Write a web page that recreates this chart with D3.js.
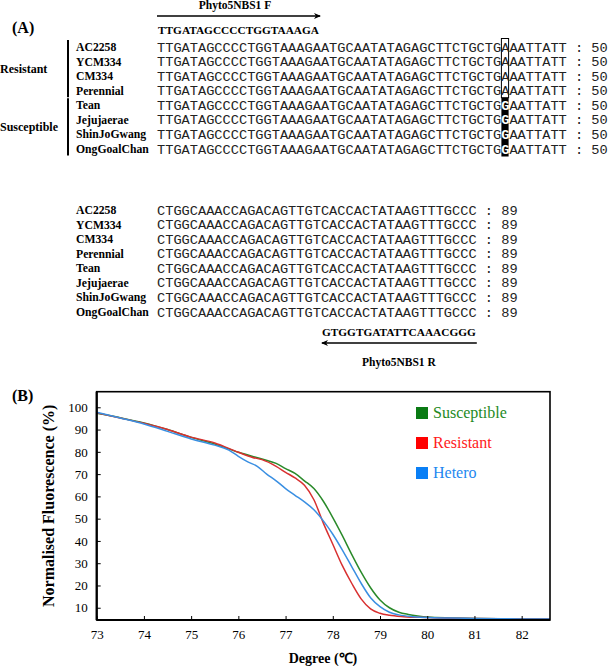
<!DOCTYPE html>
<html><head><meta charset="utf-8">
<script src="https://cdn.jsdelivr.net/npm/d3@7"></script>
<style>body{margin:0;background:#fff}svg{display:block}</style>
</head><body>
<svg id="c" width="609" height="666"></svg>
<script>
// ---------- Data: (A) alignment ----------
const accessions = ["AC2258","YCM334","CM334","Perennial","Tean","Jejujaerae","ShinJoGwang","OngGoalChan"];
const groupNames = ["Resistant","Susceptible"];
const groupMembers = [["AC2258","YCM334","CM334","Perennial"],["Tean","Jejujaerae","ShinJoGwang","OngGoalChan"]];
const seqBlock1Resistant = "TTGATAGCCCCTGGTAAAGAATGCAATATAGAGCTTCTGCTGAAATTATT";
const seqBlock1Susceptible = "TTGATAGCCCCTGGTAAAGAATGCAATATAGAGCTTCTGCTGGAATTATT";
const seqBlock2 = "CTGGCAAACCAGACAGTTGTCACCACTATAAGTTTGCCC";
const blockEnds = [50, 89];
const snpPos = 43; // 1-based position in block 1
const primerF = {name:"Phyto5NBS1 F", seq:"TTGATAGCCCCTGGTAAAGA", start:1};
const primerR = {name:"Phyto5NBS1 R", seq:"GTGGTGATATTCAAACGGG", start:21}; // within block 2

// ---------- Data: (B) melting curves ----------
const seriesNames = ["Susceptible","Resistant","Hetero"];
const susceptible = [[73.0,97.3],[73.5,95.3],[74.0,93.0],[74.5,90.0],[75.0,86.5],[75.5,83.5],[76.0,79.8],[76.5,76.8],[76.8,74.8],[77.0,72.5],[77.2,70.3],[77.4,67.0],[77.6,63.5],[77.8,57.8],[78.0,50.5],[78.2,42.5],[78.4,34.0],[78.6,26.0],[78.8,19.0],[79.0,13.5],[79.2,10.0],[79.4,8.0],[79.6,7.0],[79.8,6.3],[80.0,5.8],[80.5,5.4],[81.0,5.2],[81.5,5.1],[82.0,5.0],[82.6,4.9]];
const resistant = [[73.0,97.5],[73.5,95.2],[74.0,92.8],[74.5,90.0],[75.0,86.6],[75.5,84.0],[76.0,79.8],[76.3,77.5],[76.5,76.5],[76.8,73.5],[77.0,70.8],[77.2,68.3],[77.4,65.0],[77.6,58.5],[77.8,48.0],[78.0,38.5],[78.2,29.0],[78.4,21.0],[78.6,14.0],[78.8,9.5],[79.0,7.5],[79.2,6.6],[79.5,6.0],[80.0,5.6],[80.5,5.3],[81.0,5.2],[82.0,5.0],[82.6,4.9]];
const hetero = [[73.0,97.8],[73.5,95.2],[74.0,92.5],[74.5,89.2],[75.0,85.8],[75.5,83.0],[75.8,80.8],[76.0,78.0],[76.2,75.5],[76.4,73.5],[76.6,70.0],[76.8,67.0],[77.0,63.5],[77.2,60.5],[77.4,57.5],[77.6,54.0],[77.8,49.0],[78.0,43.0],[78.2,36.0],[78.4,28.5],[78.6,21.0],[78.8,14.5],[79.0,10.5],[79.2,8.0],[79.4,6.8],[79.7,6.0],[80.0,5.6],[80.5,5.4],[81.0,5.2],[82.0,5.0],[82.6,4.9]];
const xTicks = [73,74,75,76,77,78,79,80,81,82];
const yTicks = [10,20,30,40,50,60,70,80,90,100];
const lineColors = ["#2a8a2a","#d83030","#3a8fe2"];
const legendSquareColors = ["#0a7a14","#ff0000","#0a7ff5"];
const legendTextColors = ["#1e8a1e","#ff1a1a","#1e88f0"];

// pick an installed serif face
function pickFont(cands){
  const ctx = document.createElement("canvas").getContext("2d");
  const s = "Susceptible Fluorescence 0123 WMwi";
  ctx.font = "20px monospace"; const wm = ctx.measureText(s).width;
  ctx.font = "20px sans-serif"; const ws = ctx.measureText(s).width;
  for (const c of cands){
    ctx.font = `20px "${c}", monospace`; const a = ctx.measureText(s).width;
    ctx.font = `20px "${c}", sans-serif`; const b = ctx.measureText(s).width;
    if (Math.abs(a-wm)>0.5 && Math.abs(b-ws)>0.5) return `"${c}"`;
    if (Math.abs(a-b)<0.01 && Math.abs(a-wm)>0.5) return `"${c}"`;
  }
  return "serif";
}
const SERIF = pickFont(["Liberation Serif","Times New Roman","Tinos","Times","Nimbus Roman","DejaVu Serif","Noto Serif"]);
const MONO = "'Liberation Mono','Courier New',monospace";

const svg = d3.select("#c");

// ================= Panel A =================
const gA = svg.append("g");
gA.append("text").attr("x",12).attr("y",33).attr("font-family",SERIF).attr("font-weight","bold").attr("font-size",16).text("(A)");

const charW = 8.2;
const xc = d3.scaleLinear().domain([0,1]).range([157, 157+charW]);
const row1 = d3.scalePoint().domain(accessions).range([47,149]);
const row2 = d3.scalePoint().domain(accessions).range([210,312]);

// forward primer
gA.append("text").attr("x",(xc(0)+xc(primerF.seq.length))/2-4).attr("y",8.5).attr("text-anchor","middle")
  .attr("font-family",SERIF).attr("font-weight","bold").attr("font-size",11.5).text(primerF.name);
gA.append("line").attr("x1",xc(0)).attr("x2",xc(primerF.seq.length)-1).attr("y1",16).attr("y2",16).attr("stroke","#000").attr("stroke-width",1.3);
gA.append("path").attr("d",`M${xc(primerF.seq.length)},16 l-7,-3 l2,3 l-2,3 z`).attr("fill","#000");
gA.append("text").attr("x",xc(0)+1).attr("y",34).attr("font-family",SERIF).attr("font-weight","bold").attr("font-size",11.3).attr("textLength",xc(20)-xc(0)-3).text(primerF.seq);

// group labels & bars
groupNames.forEach((g,i)=>{
  const m = groupMembers[i];
  const y0 = row1(m[0]) - 7, y1 = row1(m[m.length-1]) + 6.5;
  gA.append("line").attr("x1",68).attr("x2",68).attr("y1",y0).attr("y2",y1).attr("stroke","#000").attr("stroke-width",2);
  gA.append("text").attr("x",0).attr("y",(y0+y1)/2+4).attr("font-family",SERIF).attr("font-weight","bold").attr("font-size",12).text(g);
});

// SNP highlight
const resRows = groupMembers[0], susRows = groupMembers[1];
gA.append("rect").attr("x",xc(snpPos-1)).attr("width",charW-1).attr("y",row1(resRows[0])-8.5).attr("height",row1(resRows[3])-row1(resRows[0])+15.5)
  .attr("fill","none").attr("stroke","#000").attr("stroke-width",1);
gA.append("rect").attr("x",xc(snpPos-1)).attr("width",charW-1).attr("y",row1(susRows[0])-7.5).attr("height",row1(susRows[3])-row1(susRows[0])+15)
  .attr("fill","#000");

function nameText(y,name){
  gA.append("text").attr("x",76).attr("y",y+4).attr("font-family",SERIF).attr("font-weight","bold").attr("font-size",11.7).text(name);
}
accessions.forEach(a=>{
  const y = row1(a);
  nameText(y,a);
  const isSus = susRows.includes(a);
  const s = isSus ? seqBlock1Susceptible : seqBlock1Resistant;
  const t = gA.append("text").attr("x",xc(0)).attr("y",y+4.5).attr("font-family",MONO).attr("font-size",13.67).attr("fill","#222").attr("xml:space","preserve");
  t.append("tspan").text(s.slice(0,snpPos-1));
  t.append("tspan").attr("fill",isSus?"#fff":"#222").attr("font-weight",isSus?"bold":"normal").text(s[snpPos-1]);
  t.append("tspan").text(s.slice(snpPos) + " : " + blockEnds[0]);
});
accessions.forEach(a=>{
  const y = row2(a);
  nameText(y,a);
  gA.append("text").attr("x",xc(0)).attr("y",y+4.5).attr("font-family",MONO).attr("font-size",13.67).attr("fill","#222").attr("xml:space","preserve")
    .text(seqBlock2 + " : " + blockEnds[1]);
});

// reverse primer
const rs = primerR.start-1, re = rs + primerR.seq.length;
gA.append("text").attr("x",xc(rs)+1).attr("y",336).attr("font-family",SERIF).attr("font-weight","bold").attr("font-size",11.3).attr("textLength",xc(re)-xc(rs)-2).text(primerR.seq);
gA.append("line").attr("x1",xc(rs)+1).attr("x2",xc(re)).attr("y1",343).attr("y2",343).attr("stroke","#000").attr("stroke-width",1.3);
gA.append("path").attr("d",`M${xc(rs)},343 l7,-3 l-2,3 l2,3 z`).attr("fill","#000");
gA.append("text").attr("x",(xc(rs)+xc(re))/2).attr("y",366).attr("text-anchor","middle")
  .attr("font-family",SERIF).attr("font-weight","bold").attr("font-size",11.5).text(primerR.name);

// ================= Panel B =================
const L=96.7, R=550, T=391.7, B=620;
const x = d3.scaleLinear().domain([73,82.6]).range([L,R]);
const y = d3.scaleLinear().domain([4.5,107]).range([B,T]);
const gB = svg.append("g");
gB.append("text").attr("x",12).attr("y",401).attr("font-family",SERIF).attr("font-weight","bold").attr("font-size",16).text("(B)");

svg.append("defs").append("clipPath").attr("id","clp").append("rect").attr("x",L).attr("y",T).attr("width",R-L).attr("height",B-T);

const line = d3.line().x(d=>x(d[0])).y(d=>y(d[1])).curve(d3.curveMonotoneX);
[susceptible,resistant,hetero].forEach((s,i)=>{
  gB.append("path").attr("d",line(s)).attr("fill","none").attr("stroke",lineColors[i]).attr("stroke-width",1.5).attr("clip-path","url(#clp)");
});

const xAxis = d3.axisBottom(x).tickValues(xTicks).tickSizeInner(-4).tickSizeOuter(0).tickPadding(10).tickFormat(d3.format("d"));
const yAxis = d3.axisLeft(y).tickValues(yTicks).tickSizeInner(-4).tickSizeOuter(0).tickPadding(9).tickFormat(d3.format("d"));
const gx = gB.append("g").attr("transform",`translate(0,${B})`).call(xAxis);
const gy = gB.append("g").attr("transform",`translate(${L},0)`).call(yAxis);
[gx,gy].forEach(g=>{
  g.select(".domain").remove();
  g.selectAll(".tick line").attr("stroke","#000").attr("stroke-width",1);
  g.selectAll("text").attr("font-family",SERIF).attr("font-size",13).attr("fill","#000");
});

// frame
gB.append("rect").attr("x",L).attr("y",T).attr("width",R-L).attr("height",B-T).attr("fill","none").attr("stroke","#000").attr("stroke-width",1.6);
gB.append("line").attr("x1",L).attr("x2",L).attr("y1",T).attr("y2",B).attr("stroke","#000").attr("stroke-width",2.2);
gB.append("line").attr("x1",L).attr("x2",R).attr("y1",B).attr("y2",B).attr("stroke","#000").attr("stroke-width",2.2);

// axis titles
gB.append("text").attr("transform",`translate(54,${(T+B)/2}) rotate(-90)`).attr("text-anchor","middle")
  .attr("font-family",SERIF).attr("font-weight","bold").attr("font-size",16).text("Normalised Fluorescence (%)");
gB.append("text").attr("x",323).attr("y",663).attr("text-anchor","middle")
  .attr("font-family",SERIF).attr("font-weight","bold").attr("font-size",14).text("Degree (℃)");

// legend
seriesNames.forEach((n,i)=>{
  const cy = 413 + i*30;
  gB.append("rect").attr("x",416).attr("y",cy-6).attr("width",12).attr("height",12).attr("fill",legendSquareColors[i]);
  gB.append("text").attr("x",433).attr("y",cy+5).attr("font-family",SERIF).attr("font-size",16).attr("fill",legendTextColors[i]).text(n);
});
</script>
</body></html>
